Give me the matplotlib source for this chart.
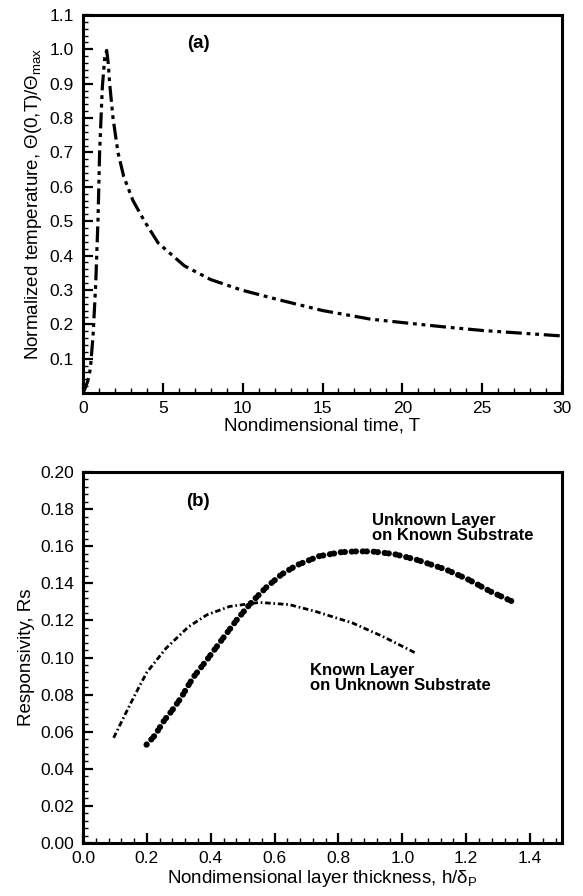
"""
Two-panel figure: normalized surface temperature vs time (a) and
responsivity vs nondimensional layer thickness (b).
"""

import matplotlib
matplotlib.use("Agg")
import matplotlib.pyplot as plt
from matplotlib.ticker import MultipleLocator

plt.rcParams["font.family"] = ["Liberation Sans", "DejaVu Sans"]
plt.rcParams["mathtext.fontset"] = "custom"
plt.rcParams["mathtext.rm"] = "Liberation Sans"
plt.rcParams["mathtext.it"] = "Liberation Sans:italic"

# panel (a): temperature history
time_T = [0.0, 0.1, 0.3, 0.46, 0.63, 0.79, 0.94, 1.04, 1.21, 1.36, 1.48,
          1.58, 1.67, 1.88, 2.19, 2.55, 3.13, 3.85, 4.7, 6.35, 8.0, 9.9,
          12.2, 15.0, 18.0, 20.0, 22.7, 25.0, 27.5, 30.0]
theta_norm = [0.0, 0.01, 0.035, 0.07, 0.167, 0.31, 0.505, 0.70, 0.89, 0.975,
              0.997, 0.96, 0.90, 0.80, 0.70, 0.63, 0.56, 0.50, 0.437, 0.37,
              0.33, 0.30, 0.272, 0.24, 0.215, 0.205, 0.192, 0.182, 0.174,
              0.166]

# panel (b): responsivity curves
known_h = [0.096, 0.131, 0.166, 0.20, 0.26, 0.33, 0.388, 0.459,
           0.552, 0.646, 0.727, 0.844, 0.938, 1.043]
known_rs = [0.0567, 0.069, 0.081, 0.092, 0.105, 0.1165, 0.123,
            0.1275, 0.1297, 0.1285, 0.1249, 0.1186, 0.1114, 0.1023]

unknown_h = [0.199, 0.225, 0.254, 0.277, 0.306, 0.33, 0.347, 0.388, 0.435,
             0.482, 0.529, 0.575, 0.622, 0.669, 0.739, 0.809, 0.856, 0.903,
             0.973, 1.043, 1.137, 1.207, 1.277, 1.347]
unknown_rs = [0.053, 0.058, 0.066, 0.071, 0.078, 0.085, 0.0897, 0.0987,
              0.1096, 0.1204, 0.130, 0.138, 0.1448, 0.1497, 0.1546, 0.1568,
              0.1572, 0.1572, 0.1558, 0.1528, 0.1474, 0.142, 0.1355, 0.130]

TICK_FS = 12.5
LABEL_FS = 13.5

W, H = 583, 896
fig = plt.figure(figsize=(W / 100, H / 100), dpi=100)
ax_a = fig.add_axes([83 / W, 1 - 393 / H, 479 / W, 378 / H])
ax_b = fig.add_axes([83 / W, 1 - 843 / H, 479 / W, 371 / H])


def style_axes(ax):
    for sp in ax.spines.values():
        sp.set_linewidth(2.2)
    ax.tick_params(which="both", direction="in", top=False, right=False,
                   labelsize=TICK_FS)
    ax.tick_params(axis="x", pad=6)
    ax.tick_params(axis="y", pad=6.5)
    ax.tick_params(which="major", length=7, width=1.6)
    ax.tick_params(which="minor", length=3.5, width=1.0)


# ---- (a)
ax_a.plot(time_T, theta_norm, color="black", linewidth=2.3,
          linestyle=(0, (5, 1.5, 1.2, 1.5, 1.2, 1.5)))
ax_a.set_xlim(0, 30)
ax_a.set_ylim(0, 1.1)
ax_a.set_xticks(range(0, 31, 5))
ax_a.set_yticks([round(0.1 * i, 1) for i in range(1, 12)])
ax_a.xaxis.set_minor_locator(MultipleLocator(1))
ax_a.yaxis.set_minor_locator(MultipleLocator(0.02))
style_axes(ax_a)
ax_a.set_xlabel("Nondimensional time, T", fontsize=LABEL_FS, labelpad=1)
ax_a.set_ylabel(r"Normalized temperature, Θ(0,T)/Θ$_{\rm max}$",
                fontsize=LABEL_FS, labelpad=4)
ax_a.text(0.24, 0.925, "(a)", transform=ax_a.transAxes, fontsize=13.5,
          fontweight="bold", ha="center", va="center")

# ---- (b)
ax_b.plot(known_h, known_rs, color="black", linewidth=2.0,
          linestyle=(0, (2, 1, 0.6, 1)))
ax_b.plot(unknown_h, unknown_rs, color="black", linewidth=4.4,
          linestyle=(0, (0.05, 1.1, 0.05, 0.6)), dash_capstyle="round")
ax_b.set_xlim(0, 1.5)
ax_b.set_ylim(0, 0.2)
ax_b.set_xticks([0.0, 0.2, 0.4, 0.6, 0.8, 1.0, 1.2, 1.4])
ax_b.set_xticklabels(["0.0", "0.2", "0.4", "0.6", "0.8", "1.0", "1.2", "1.4"])
ax_b.set_yticks([round(0.02 * i, 2) for i in range(0, 11)])
ax_b.set_yticklabels([f"{0.02 * i:.2f}" for i in range(0, 11)])
ax_b.xaxis.set_minor_locator(MultipleLocator(0.04))
ax_b.yaxis.set_minor_locator(MultipleLocator(0.004))
style_axes(ax_b)
ax_b.set_xlabel(r"Nondimensional layer thickness, h/δ$_{\rm P}$",
                fontsize=LABEL_FS, labelpad=1)
ax_b.set_ylabel("Responsivity, Rs", fontsize=LABEL_FS, labelpad=4)
ax_b.text(0.36, 0.184, "(b)", fontsize=13.5, fontweight="bold",
          ha="center", va="center")
ax_b.text(0.905, 0.170, "Unknown Layer\non Known Substrate", fontsize=12,
          fontweight="bold", ha="left", va="center", linespacing=1.0)
ax_b.text(0.71, 0.0888, "Known Layer\non Unknown Substrate", fontsize=12,
          fontweight="bold", ha="left", va="center", linespacing=1.0)

fig.savefig("out.png", dpi=100)
plt.close(fig)
